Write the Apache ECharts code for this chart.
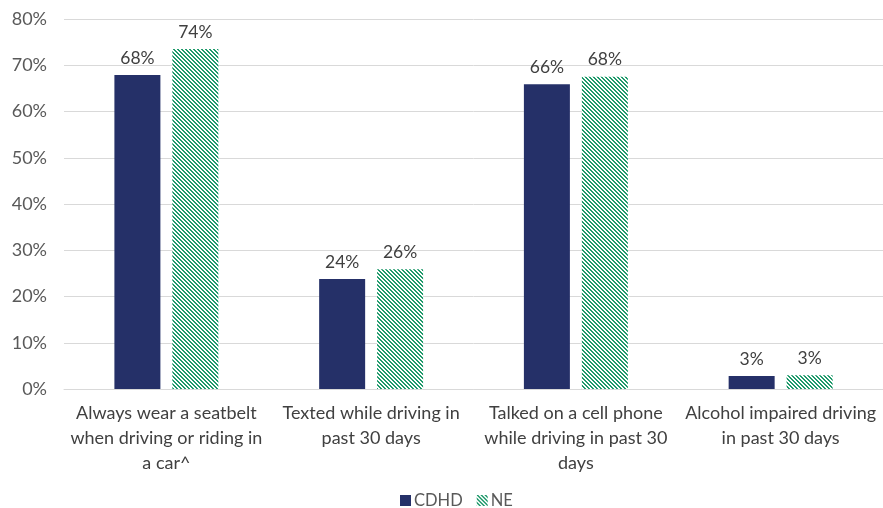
<!DOCTYPE html>
<html>
<head>
<meta charset="utf-8">
<script src="https://cdn.jsdelivr.net/npm/echarts@6/dist/echarts.min.js"></script>
<style>html,body{margin:0;padding:0;background:#fff}#c{width:883px;height:508px}</style>
</head>
<body>
<div id="c"></div>
<script>
const categories = [
  "Always wear a seatbelt\nwhen driving or riding in\na car^",
  "Texted while driving in\npast 30 days",
  "Talked on a cell phone\nwhile driving in past 30\ndays",
  "Alcohol impaired driving\nin past 30 days"
];
const cdhd = [67.9, 23.8, 65.9, 2.8];
const ne = [73.5, 25.9, 67.5, 3.0];
const yTicks = {min: 0, max: 80, interval: 10};

function hatch() {
  const c = document.createElement('canvas');
  c.width = 4; c.height = 4;
  const ctx = c.getContext('2d');
  ctx.fillStyle = '#ffffff';
  ctx.fillRect(0, 0, 4, 4);
  ctx.fillStyle = '#1f9a6b';
  for (let y = 0; y < 4; y++) {
    for (let x = 0; x < 4; x++) {
      const d = ((x - y) % 4 + 4) % 4;
      if (d === 0 || d === 1) ctx.fillRect(x, y, 1, 1);
    }
  }
  return c;
}
const pattern = {image: hatch(), repeat: 'repeat'};
const font = 'Lato, "Open Sans", sans-serif';

const chart = echarts.init(document.getElementById('c'));
chart.setOption({
  animation: false,
  textStyle: {fontFamily: font},
  grid: {left: 64, right: 0, top: 19, bottom: 119, containLabel: false},
  legend: {
    top: 487, left: 395, itemWidth: 11, itemHeight: 11, itemGap: 14, icon: 'rect',
    textStyle: {color: '#595959', fontSize: 16.5, fontFamily: font, padding: [0, 0, 0, -2]},
    data: ['CDHD', 'NE']
  },
  xAxis: {
    type: 'category', data: categories,
    axisTick: {show: false},
    axisLine: {lineStyle: {color: '#d9d9d9'}},
    axisLabel: {color: '#404040', fontSize: 18, lineHeight: 25, margin: 12, interval: 0, fontFamily: font}
  },
  yAxis: {
    type: 'value', min: yTicks.min, max: yTicks.max, interval: yTicks.interval,
    axisLabel: {formatter: '{value}%', color: '#595959', fontSize: 18, margin: 17, fontFamily: font},
    splitLine: {lineStyle: {color: '#d9d9d9'}},
    axisLine: {show: false}, axisTick: {show: false}
  },
  series: [
    {
      name: 'CDHD', type: 'bar', data: cdhd,
      barWidth: 46, barGap: '26%',
      itemStyle: {color: '#253068'},
      label: {show: true, position: 'top', color: '#404040', fontSize: 17.5, distance: 8,
        formatter: p => Math.round(p.value) + '%'}
    },
    {
      name: 'NE', type: 'bar', data: ne,
      barWidth: 46, barGap: '26%',
      itemStyle: {color: pattern},
      label: {show: true, position: 'top', color: '#404040', fontSize: 17.5, distance: 8,
        formatter: p => Math.round(p.value) + '%'}
    }
  ]
});
</script>
</body>
</html>
